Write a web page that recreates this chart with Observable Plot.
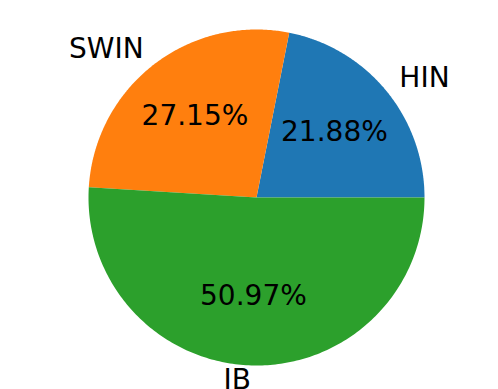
<!DOCTYPE html>
<html><head><meta charset="utf-8">
<script src="https://cdn.jsdelivr.net/npm/d3@7"></script>
<script src="https://cdn.jsdelivr.net/npm/@observablehq/plot@0.6"></script>
<style>body{margin:0;background:#fff}</style>
</head><body><div id="chart"></div>
<script>
const categories = ["HIN", "SWIN", "IB"];
const values = [21.88, 27.15, 50.97];
const colors = ["#1f77b4", "#ff7f0e", "#2ca02c"];

const W = 498, H = 389, R = 168, cx = 256, cy = 197;
const total = d3.sum(values);
let start = 0;
const slices = categories.map((c, i) => {
  const a0 = start / total * 2 * Math.PI;
  start += values[i];
  const a1 = start / total * 2 * Math.PI;
  return {c, v: values[i], a0, a1, mid: (a0 + a1) / 2, color: colors[i]};
});
const poly = [];
for (const s of slices) {
  poly.push({c: s.c, x: 0, y: 0});
  const n = 200;
  for (let k = 0; k <= n; k++) {
    const a = s.a0 + (s.a1 - s.a0) * k / n;
    poly.push({c: s.c, x: Math.cos(a), y: Math.sin(a)});
  }
  poly.push({c: s.c, x: 0, y: 0});
}
const labels = slices.map(s => ({c: s.c, x: 1.1 * Math.cos(s.mid), y: 1.1 * Math.sin(s.mid)}));
const pct = slices.map(s => ({t: s.v.toFixed(2) + "%", x: 0.6 * Math.cos(s.mid), y: 0.6 * Math.sin(s.mid)}));

const chart = Plot.plot({
  width: W, height: H,
  margin: 0,
  x: {domain: [-cx / R, (W - cx) / R], axis: null},
  y: {domain: [-(H - cy) / R, cy / R], axis: null},
  color: {domain: categories, range: colors},
  style: {fontFamily: "DejaVu Sans", background: "#fff"},
  marks: [
    Plot.line(poly, {x: "x", y: "y", z: "c", fill: "c", stroke: null, curve: "linear"}),
    Plot.text(labels.filter(d => d.x > 0), {x: "x", y: "y", text: "c", textAnchor: "start", fontSize: 28, fill: "black", dy: -2}),
    Plot.text(labels.filter(d => d.x <= 0), {x: "x", y: "y", text: "c", textAnchor: "end", fontSize: 28, fill: "black", dy: -2}),
    Plot.text(pct, {x: "x", y: "y", text: "t", fontSize: 28, fill: "black", dy: -2})
  ]
});
document.getElementById("chart").append(chart);
</script></body></html>
